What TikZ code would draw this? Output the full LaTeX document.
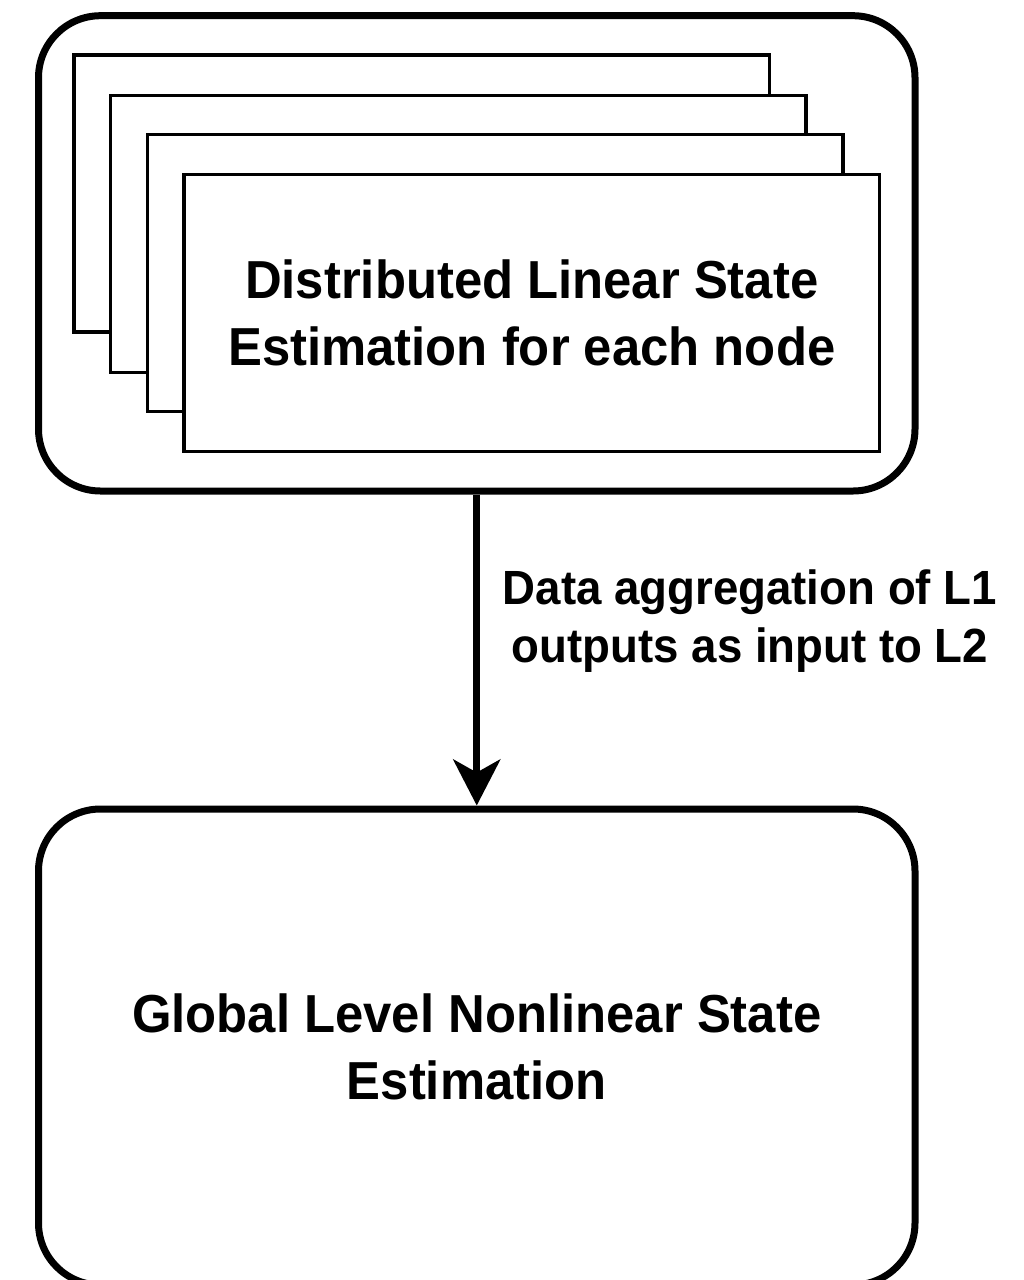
\documentclass[tikz,border=0pt]{standalone}
\usepackage{fontspec}
\setmainfont{Liberation Sans}[FakeStretch=0.95]
\usetikzlibrary{arrows.meta}
\begin{document}
\begin{tikzpicture}[x=1pt,y=-1pt,
  layer/.style={draw, line width=3.3pt, fill=white, minimum width=695.5pt, minimum height=277pt, inner sep=0pt},
  bigbox/.style={draw, line width=7pt, rounded corners=62pt, minimum width=876.5pt, inner sep=0pt},
  boxtext/.style={font=\fontsize{53.5}{67}\selectfont\bfseries, align=center},
  lbltext/.style={font=\fontsize{48}{58}\selectfont\bfseries, align=center, inner sep=0pt},
  conn/.style={line width=7pt, -{Stealth[length=46pt,width=47pt,inset=13pt]}}]
\useasboundingbox (0,0) rectangle (1024,1280);
\clip (0,0) rectangle (1024,1280);
\node[bigbox, minimum height=475.3pt] (outer) at (476.75,253.35) {};
\node[layer] (l1) at (421.75,193.5) {};
\node[layer] (l2) at (458.1,234) {};
\node[layer] (l3) at (495.25,273) {};
\node[layer, boxtext] (l4) at (531.75,313) {Distributed Linear State\\Estimation for each node};
\node[bigbox, boxtext, minimum height=476pt] (bot) at (476.75,1047) {Global Level Nonlinear State\\Estimation};
\draw[conn] (outer.south) -- (bot.north);
\node[lbltext] (lbl) at (750,621) {Data aggregation of L1\\outputs as input to L2};
\end{tikzpicture}
\end{document}
